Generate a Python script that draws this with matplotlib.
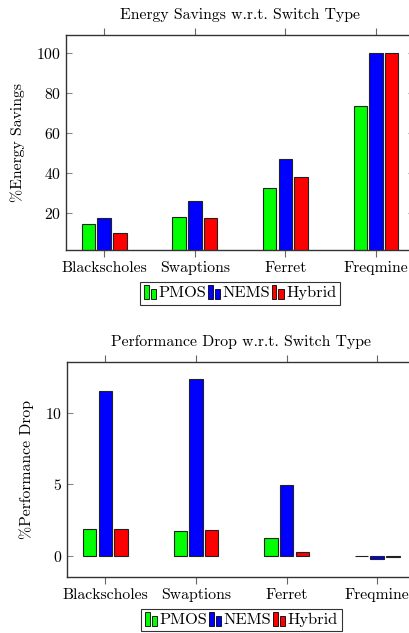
import numpy as np
import matplotlib
matplotlib.use("Agg")
import matplotlib.pyplot as plt
from matplotlib.patches import Rectangle
from matplotlib.legend_handler import HandlerBase

plt.rcParams["font.family"] = ["cmr10", "DejaVu Serif"]
plt.rcParams["axes.formatter.use_mathtext"] = True
plt.rcParams["mathtext.fontset"] = "cm"

# data
benchmarks = ["Blackscholes", "Swaptions", "Ferret", "Freqmine"]
series = ["PMOS", "NEMS", "Hybrid"]
colors = ["#00ff00", "#0000ff", "#ff0000"]

energy_pmos = [14.5, 18.3, 32.5, 73.5]
energy_nems = [17.5, 26.3, 47.2, 100.0]
energy_hybrid = [10.3, 17.8, 38.3, 100.0]

perf_pmos = [1.9, 1.72, 1.23, 0.02]
perf_nems = [11.5, 12.3, 4.95, -0.2]
perf_hybrid = [1.86, 1.79, 0.26, -0.04]

FS = 11.3


class TwoBarHandler(HandlerBase):
    # pgfplots-style ybar legend image: two small bars
    def create_artists(self, legend, orig_handle, xdescent, ydescent,
                       width, height, fontsize, trans):
        fc = orig_handle.get_facecolor()
        r1 = Rectangle((-xdescent, -ydescent - 1), width * 0.38, height * 1.2,
                       facecolor=fc, edgecolor="black", linewidth=0.6, transform=trans)
        r2 = Rectangle((-xdescent + width * 0.55, -ydescent - 1), width * 0.45, height * 0.85,
                       facecolor=fc, edgecolor="black", linewidth=0.6, transform=trans)
        return [r1, r2]


def draw_panel(ax, values, title, ylabel, ylim, yticks):
    x = np.arange(len(benchmarks))
    off = 0.173
    w = 0.15
    handles = []
    for i, (vals, c, name) in enumerate(zip(values, colors, series)):
        bars = ax.bar(x + (i - 1) * off, vals, w, color=c, edgecolor="#222222",
                      linewidth=0.8, label=name)
        handles.append(bars.patches[0])
    ax.set_xlim(-0.42, 3.42)
    ax.set_ylim(*ylim)
    ax.set_xticks(x)
    ax.set_xticklabels(benchmarks)
    ax.set_yticks(yticks)
    ax.tick_params(axis="x", direction="out", length=5, top=True, color="#666666",
                   labelsize=FS, pad=3)
    ax.tick_params(axis="y", direction="in", length=4, right=True, color="#888888",
                   labelsize=FS)
    for s in ax.spines.values():
        s.set_color("#333333")
        s.set_linewidth(1.0)
    ax.set_title(title, fontsize=FS, pad=11.5)
    ax.set_ylabel(ylabel, fontsize=FS, labelpad=8)
    leg = ax.legend(handles, series, handler_map={h: TwoBarHandler() for h in handles},
                    loc="upper center", bbox_to_anchor=(0.5, -0.11), ncol=3,
                    frameon=True, fancybox=False, edgecolor="black",
                    handlelength=0.75, handletextpad=0.12, columnspacing=0.12,
                    borderpad=0.25, fontsize=FS + 0.5)
    leg.get_frame().set_linewidth(0.8)


fig = plt.figure(figsize=(4.09, 6.33), dpi=100)
ax1 = fig.add_axes([0.1614, 0.605, 0.851, 0.3397])
ax2 = fig.add_axes([0.1645, 0.0889, 0.851, 0.3397])

draw_panel(ax1, [energy_pmos, energy_nems, energy_hybrid],
           "Energy Savings w.r.t. Switch Type", "%Energy Savings",
           (1.7, 109.2), [20, 40, 60, 80, 100])
draw_panel(ax2, [perf_pmos, perf_nems, perf_hybrid],
           "Performance Drop w.r.t. Switch Type", "%Performance Drop",
           (-1.44, 13.54), [0, 5, 10])

fig.savefig("out.png", dpi=100)
